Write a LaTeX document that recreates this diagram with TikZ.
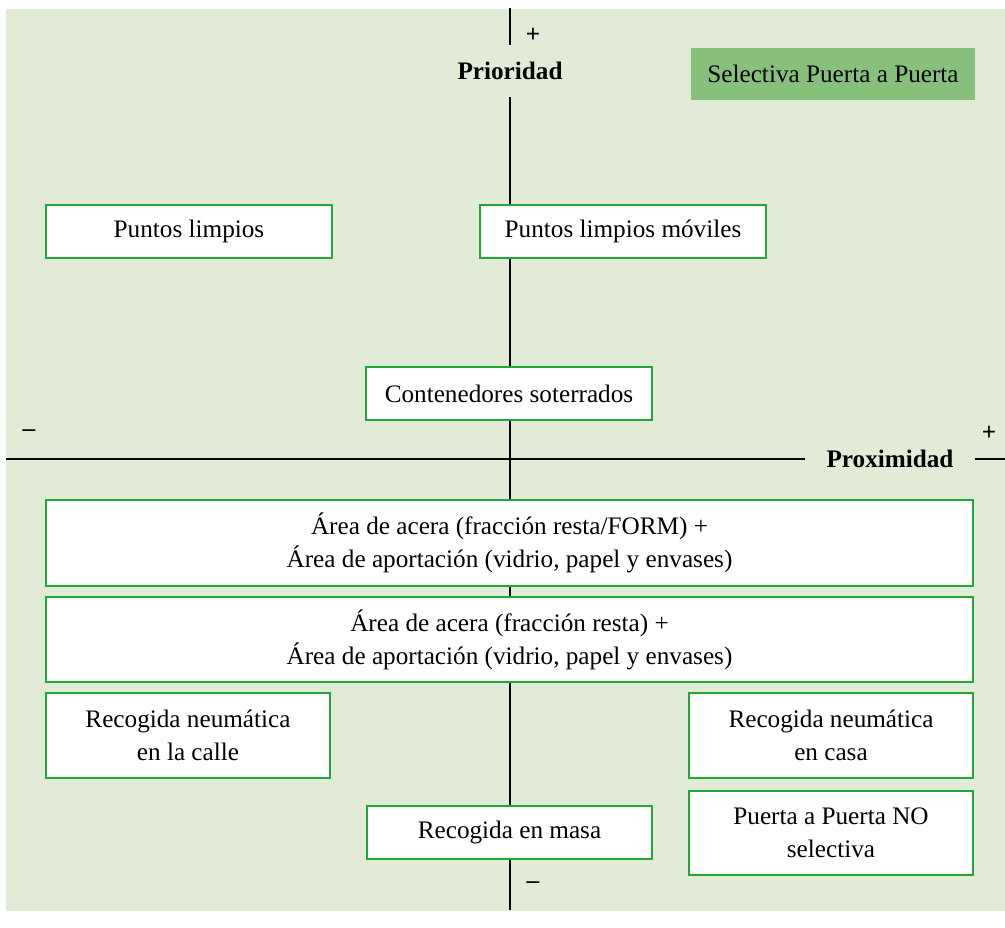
\documentclass[tikz,border=0pt]{standalone}
\usepackage{fontspec}
\setmainfont{Liberation Serif}

\definecolor{fondo}{RGB}{226,235,213}
\definecolor{verde}{RGB}{30,168,60}
\definecolor{verdeclaro}{RGB}{134,192,122}
\newcommand\letra{\fontsize{12.6}{16.5}\selectfont}

\tikzset{
  caja/.style={draw=verde, line width=1.2pt, fill=white, align=center, inner sep=0pt, font=\letra},
  eje/.style={line width=1.4pt},
  rotulo/.style={font=\letra\bfseries, fill=fondo, inner sep=0pt},
  signo/.style={font=\letra\bfseries, inner sep=0pt}
}

\begin{document}
\begin{tikzpicture}[x=0.5pt, y=-0.5pt]

  \useasboundingbox (0,0) rectangle (1005,927);
  \fill[fondo] (6,9) rectangle (1005,911);

  % ejes
  \coordinate (ejeSup) at (510,8);
  \coordinate (ejeInf) at (510,910);
  \coordinate (ejeIzq) at (6,459);
  \coordinate (ejeDer) at (1005,459);
  \draw[eje] (ejeSup) -- (ejeInf);
  \draw[eje] (ejeIzq) -- (ejeDer);

  \node[rotulo, minimum height=26pt] (prio) at (510,71) {Prioridad};
  \node[rotulo, minimum width=85pt] (prox) at (890,459) {Proximidad};

  \node[signo] (masV) at (533,35) {+};
  \node[signo] (menosV) at (533,885) {--};
  \node[signo] (menosH) at (29,433) {--};
  \node[signo] (masH) at (989,433) {+};

  % leyenda
  \node[fill=verdeclaro, inner sep=0pt, font=\letra, minimum width=142pt, minimum height=26pt]
    (selectiva) at (833,74) {Selectiva Puerta a Puerta};

  % cajas
  \node[caja, minimum width=143pt, minimum height=26.5pt] (limpios) at (189,231.5) {Puntos limpios};
  \node[caja, minimum width=143pt, minimum height=26.5pt] (moviles) at (623,231.5) {Puntos limpios móviles};
  \node[caja, minimum width=143pt, minimum height=26.5pt] (soterrados) at (509,393.5) {Contenedores soterrados};
  \node[caja, minimum width=463.5pt, minimum height=43pt] (aceraForm) at (509.5,543)
    {Área de acera (fracción resta/FORM) +\\Área de aportación (vidrio, papel y envases)};
  \node[caja, minimum width=463.5pt, minimum height=42.5pt] (aceraResta) at (509.5,639.5)
    {Área de acera (fracción resta) +\\Área de aportación (vidrio, papel y envases)};
  \node[caja, minimum width=142pt, minimum height=42.5pt] (neumCalle) at (188,735.5)
    {Recogida neumática\\en la calle};
  \node[caja, minimum width=142pt, minimum height=42.5pt] (neumCasa) at (831,735.5)
    {Recogida neumática\\en casa};
  \node[caja, minimum width=142.5pt, minimum height=26.5pt] (masa) at (509.5,832.5) {Recogida en masa};
  \node[caja, minimum width=142pt, minimum height=42pt] (noSelectiva) at (831,833)
    {Puerta a Puerta NO\\selectiva};

\end{tikzpicture}
\end{document}
